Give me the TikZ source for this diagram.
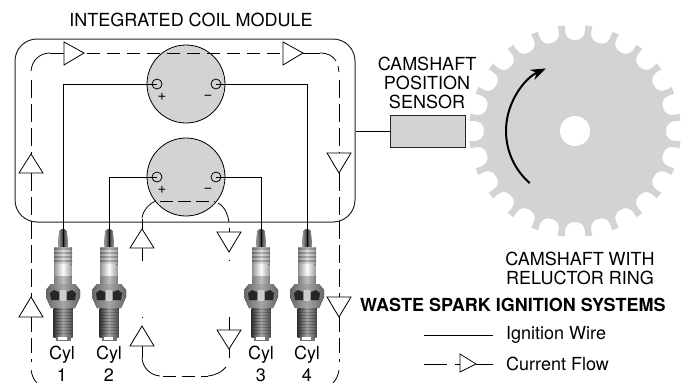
\documentclass[tikz,border=0pt]{standalone}
\usepackage{fontspec}
\setmainfont{TeX Gyre Heros}
\usetikzlibrary{arrows.meta,calc}
\definecolor{coilgray}{HTML}{D1D3D4}
\tikzset{
  wire/.style={draw=black,line width=0.9pt},
  flow/.style={draw=black,line width=0.8pt,dash pattern=on 13pt off 7pt},
  flowpart/.style={draw=black,line width=0.8pt},
  tri/.style={draw=black,line width=0.8pt,fill=white},
  coil/.style={circle,draw=black,line width=0.8pt,fill=coilgray,minimum size=78pt,inner sep=0pt},
  terminal/.style={circle,draw=black,line width=0.8pt,minimum size=10pt,inner sep=0pt},
  lbl/.style={font=\fontsize{18}{18}\selectfont,inner sep=0pt,align=center},
  sign/.style={font=\fontsize{15}{15}\selectfont,inner sep=0pt},
}
\newcommand{\sparkplug}[1]{%
 \begin{scope}[shift={(#1,229)}]
  \fill[left color=black!45,right color=black!40,middle color=black!12] (-8.5,18) -- (8.5,18) -- (9,56) -- (-9,56) -- cycle;
  \fill[left color=black!35,right color=black!35,middle color=black!80] (-5,18) -- (-4,5) .. controls (-4,1) and (-2,0) .. (0,0) .. controls (2,0) and (4,1) .. (4,5) -- (5,18) -- cycle;
  \foreach \y in {19,23,27,31}{\fill[left color=black!60,right color=black!55,middle color=black!30] (-9,\y) rectangle (9,\y+1.5);}
  \fill[left color=black!35,right color=black!35,middle color=white] (-7.5,35) rectangle (7.5,47);
  \fill[left color=black!50,right color=black!50,middle color=black!25] (-8.5,47) rectangle (8.5,56);
  \fill[left color=black!60,right color=black!60,middle color=black!35] (-12,55) -- (12,55) -- (17,61) -- (17,68) -- (12,79) -- (-12,79) -- (-17,68) -- (-17,61) -- cycle;
  \fill[black!85] (-13,64) -- (-9,61) -- (-4,63) -- (-4,71) -- (-12,71) -- cycle;
  \fill[black!85] (13,64) -- (9,61) -- (4,63) -- (4,71) -- (12,71) -- cycle;
  \fill[black!20] (-3,61) rectangle (3,72);
  \fill[left color=black!80,right color=black!70,middle color=black!35] (-9.5,79) rectangle (9.5,108);
  \foreach \y in {80,83,...,106}{\fill[black,opacity=.2] (-9.5,\y) rectangle (9.5,\y+1);}
  \fill[black!55] (-7,108) rectangle (8,112);
  \fill[white] (-5,108) rectangle (4,110.5);
 \end{scope}}
\begin{document}
\begin{tikzpicture}[x=1pt,y=-1pt]
\useasboundingbox (0,0) rectangle (689,383);
% gear
\begin{scope}[shift={(575,131)}]
\fill[coilgray]
  (0:91) \foreach \k in {0,...,23}{
   .. controls ({15*\k+4}:91) and ({15*\k+6.5}:95) .. ({15*\k+5.5}:106)
   -- ({15*\k+9.5}:106)
   .. controls ({15*\k+8.5}:95) and ({15*\k+11}:91) .. ({15*\k+15}:91)
  } -- cycle;
\fill[white] (0,0) circle[radius=15];
\draw[line width=2pt,-{Stealth[length=15pt,width=11pt]}] (131:69) arc[start angle=131,end angle=245,radius=69];
\end{scope}
% plugs
\sparkplug{63}\sparkplug{109}\sparkplug{261}\sparkplug{307}
\coordinate (p1) at (63,247);\coordinate (p2) at (109,247);\coordinate (p3) at (261,247);\coordinate (p4) at (307,247);
% module
\node[draw=black!85,line width=1pt,rounded corners=22pt,minimum width=340pt,minimum height=183pt,inner sep=0pt] (module) at (185,130.5) {};
% coils
\node[coil] (coilA) at (186,84) {};
\node[coil] (coilB) at (186,177) {};
\node[terminal] (tAp) at (157,84) {};
\node[terminal] (tAm) at (216,84) {};
\node[terminal] (tBp) at (157,177) {};
\node[terminal] (tBm) at (216,177) {};
\node[sign] at (162,97) {+};\node[sign] at (208,97) {−};
\node[sign] at (162,190) {+};\node[sign] at (208,190) {−};
% wires
\draw[wire] (tAp.center) -| (p1);
\draw[wire] (tAm.center) -| (p4);
\draw[wire] (tBp.center) -| (p2);
\draw[wire] (tBm.center) -| (p3);
% outer flow
\draw[flow] (87,53) -- (283,53);
\draw[flowpart] (50,53) -- (64,53);
\draw[flowpart] (303,53) -- (320,53);
\draw[flowpart] (31,71) .. controls (32,60) and (40,53) .. (50,53);
\draw[flowpart] (320,53) .. controls (328,53) and (333,56) .. (336,61);
\draw[flowpart] (338,66) -- (339,72);
\draw[flow,dash pattern=on 18pt off 6pt] (31,80) -- (31,154);
\draw[flow,dash pattern=on 18pt off 6pt] (31,173) -- (31,297);
\draw[flow,dash pattern=on 15pt off 6pt] (31,317) -- (31,362);
\draw[flowpart] (31,370) .. controls (32,376) and (34,380) .. (37,383);
\draw[flow,dash pattern=on 18pt off 6pt] (339,80) -- (339,153);
\draw[flow,dash pattern=on 18pt off 6pt] (339,173) -- (339,297);
\draw[flow,dash pattern=on 15pt off 6pt] (339,317) -- (339,362);
\draw[flowpart] (339,370) .. controls (338,376) and (336,380) .. (333,383);
% inner flow
\draw[flow,dash pattern=on 13pt off 5pt] (160,201) -- (215,201);
\draw[flowpart] (142,218) .. controls (143,210) and (150,203) .. (156,201);
\draw[flowpart] (218,203) .. controls (222,205) and (227,210) .. (229,222);
\draw[flowpart] (142,219) -- (142,229);
\draw[flowpart] (142,248) -- (142,261);
\draw[flowpart] (142,317) -- (142,318);
\draw[flowpart] (142,346) -- (142,358);
\draw[flowpart] (229,228) -- (229,232);
\draw[flowpart] (229,260) -- (229,261);
\draw[flowpart] (229,317) -- (229,330);
\draw[flowpart] (229,349) -- (229,358);
\draw[flowpart] (142,358) .. controls (143,368) and (150,375) .. (160,376);
\draw[flow,dash pattern=on 13pt off 6pt] (163,376) -- (208,376);
\draw[flowpart] (208,376) .. controls (216,375) and (222,372) .. (226,367);
% triangles
\draw[tri] (64,42) -- (84,53) -- (64,65) -- cycle;
\draw[tri] (283,42) -- (303,53) -- (283,65) -- cycle;
\draw[tri] (19,173) -- (31,154) -- (43,173) -- cycle;
\draw[tri] (327,153) -- (351,153) -- (339,173) -- cycle;
\draw[tri] (19,317) -- (31,297) -- (43,317) -- cycle;
\draw[tri] (327,297) -- (351,297) -- (339,317) -- cycle;
\draw[tri] (130,248) -- (142,229) -- (154,248) -- cycle;
\draw[tri] (217,232) -- (241,232) -- (229,252) -- cycle;
\draw[tri] (130,346) -- (142,326) -- (154,346) -- cycle;
\draw[tri] (217,330) -- (241,330) -- (229,349) -- cycle;
% sensor
\node[draw=black!85,line width=1pt,fill=coilgray,minimum width=75pt,minimum height=32pt,inner sep=0pt] (sensor) at (427.5,131) {};
\draw[wire] (module.east |- sensor.west) -- (sensor.west);
% texts
\node[lbl] (title) at (191,20) {INTEGRATED COIL MODULE};
\node[lbl] (camA) at (427,64) {CAMSHAFT};
\node[lbl] (camB) at (427,83) {POSITION};
\node[lbl] (camC) at (427,102) {SENSOR};
\node[lbl] (ringA) at (580,259) {CAMSHAFT WITH};
\node[lbl] (ringB) at (580,278) {RELUCTOR RING};
\node[lbl,font=\fontsize{18}{18}\selectfont\bfseries,anchor=west] (head) at (360,305) {WASTE SPARK IGNITION SYSTEMS};
\foreach \n/\x/\c in {a/62/1,b/109/2,c/261/3,d/307/4}{
  \node[lbl] (cyl\n) at (\x,355) {Cyl};
  \node[lbl] (num\n) at (\x,375) {\c};
}
% legend
\node[lbl,anchor=west] (legA) at (506,335) {Ignition Wire};
\node[lbl,anchor=west] (legB) at (506,364) {Current Flow};
\coordinate (la) at (424,335);
\draw[line width=0.8pt] (la) -- (493,335);
\coordinate (lb) at (424,364);
\draw[line width=0.8pt] (lb) -- (447,364);
\draw[line width=0.7pt] (455,364) -- (460,364);
\draw[line width=0.7pt,fill=white] (460,354) -- (476,364) -- (460,372) -- cycle;
\draw[line width=0.8pt] (476,364) -- (493,364);
\end{tikzpicture}
\end{document}
